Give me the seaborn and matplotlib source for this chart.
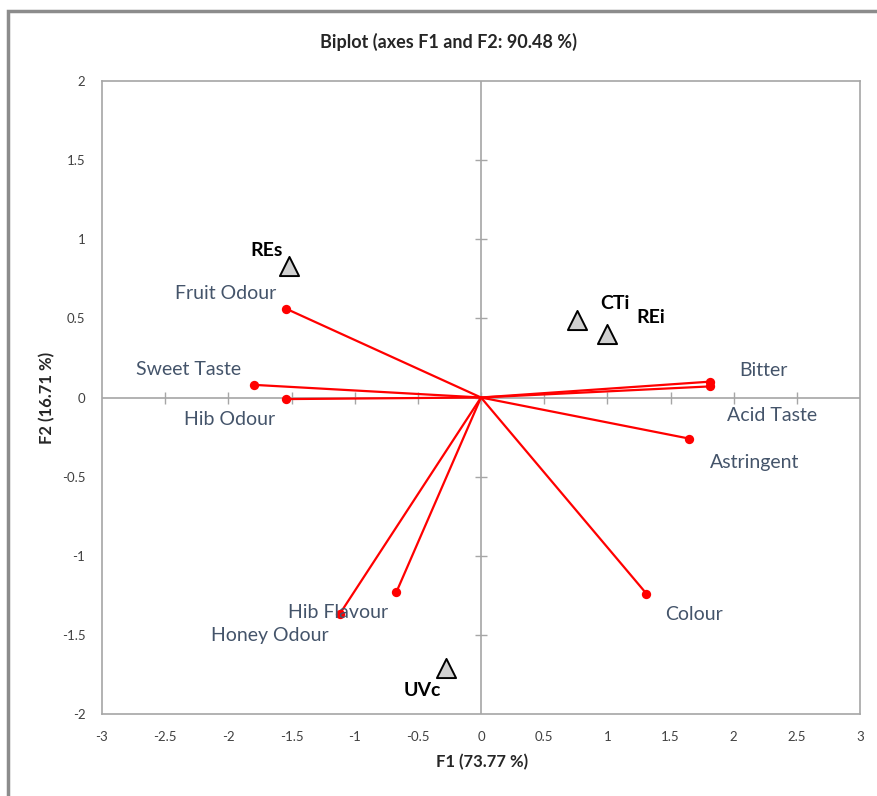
import numpy as np
import pandas as pd
import matplotlib
matplotlib.use("Agg")
import matplotlib.pyplot as plt
from matplotlib.patches import Rectangle
import seaborn as sns

# variables (vectors)
var_names = ["Fruit Odour", "Sweet Taste", "Hib Odour", "Bitter", "Acid Taste",
             "Astringent", "Colour", "Hib Flavour", "Honey Odour"]
var_f1 = [-1.54, -1.80, -1.54, 1.81, 1.81, 1.65, 1.31, -0.67, -1.12]
var_f2 = [0.56, 0.08, -0.01, 0.10, 0.07, -0.26, -1.24, -1.23, -1.37]

# observations (samples)
obs_names = ["REs", "CTi", "REi", "UVc"]
obs_f1 = [-1.52, 0.76, 1.00, -0.28]
obs_f2 = [0.83, 0.49, 0.40, -1.71]

x_ticks = [-3, -2.5, -2, -1.5, -1, -0.5, 0, 0.5, 1, 1.5, 2, 2.5, 3]
y_ticks = [-2, -1.5, -1, -0.5, 0, 0.5, 1, 1.5, 2]

sns.set_style("white")
plt.rcParams["font.family"] = ["Lato", "DejaVu Sans"]

vars_df = pd.DataFrame({"name": var_names, "F1": var_f1, "F2": var_f2})
obs_df = pd.DataFrame({"name": obs_names, "F1": obs_f1, "F2": obs_f2})

fig = plt.figure(figsize=(8.77, 7.96), dpi=100)
ax = fig.add_axes([102 / 877, 1 - 714 / 796, 758 / 877, 633 / 796])

grey = "#a6a6a6"
# zero lines with tick marks
ax.axhline(0, color=grey, lw=1.2, zorder=1)
ax.axvline(0, color=grey, lw=1.2, zorder=1)
ax.plot(x_ticks[1:-1], [0] * (len(x_ticks) - 2), ls="none", marker="|",
        ms=8, mew=1.0, color=grey, zorder=1)
ax.plot([0] * (len(y_ticks) - 2), y_ticks[1:-1], ls="none", marker="_",
        ms=8, mew=1.0, color=grey, zorder=1)

# vectors
for _, r in vars_df.iterrows():
    ax.plot([0, r.F1], [0, r.F2], color="red", lw=1.6, zorder=2)
sns.scatterplot(data=vars_df, x="F1", y="F2", color="red", s=45,
                edgecolor="red", linewidth=0, zorder=3, ax=ax, legend=False)

# observations
sns.scatterplot(data=obs_df, x="F1", y="F2", marker="^", s=190,
                color="#d0d0d0", edgecolor="black", linewidth=1.4,
                zorder=4, ax=ax, legend=False)

# variable labels (offsets in points)
var_offsets = {
    "Fruit Odour": (-44, 11), "Sweet Taste": (-47, 11), "Hib Odour": (-41, -15),
    "Bitter": (39, 8), "Acid Taste": (45, -21), "Astringent": (47, -17),
    "Colour": (34, -15), "Hib Flavour": (-42, -15), "Honey Odour": (-50, -15),
}
for _, r in vars_df.iterrows():
    ax.annotate(r["name"], (r.F1, r.F2), xytext=var_offsets[r["name"]],
                textcoords="offset points", ha="center", va="center",
                fontsize=14, color="#44546a", zorder=5)

obs_offsets = {"REs": (-16, 11), "CTi": (27, 12), "REi": (31, 12), "UVc": (-17, -16)}
for _, r in obs_df.iterrows():
    ax.annotate(r["name"], (r.F1, r.F2), xytext=obs_offsets[r["name"]],
                textcoords="offset points", ha="center", va="center",
                fontsize=14, fontweight="bold", color="black", zorder=5)

ax.set_xlim(-3, 3)
ax.set_ylim(-2, 2)
ax.set_xticks(x_ticks)
ax.set_yticks(y_ticks)
ax.set_xticklabels([f"{t:g}" for t in x_ticks])
ax.set_yticklabels([f"{t:g}" for t in y_ticks])
ax.tick_params(axis="both", length=0, labelsize=9.5, pad=12, colors="#404040")
for s in ax.spines.values():
    s.set_color(grey)
    s.set_linewidth(1.2)
ax.set_xlabel("")
ax.set_ylabel("")

fig.text(449 / 877, 1 - 42 / 796, "Biplot (axes F1 and F2: 90.48 %)",
         ha="center", va="center", fontsize=13, fontweight="bold")
fig.text(482 / 877, 1 - 762 / 796, "F1 (73.77 %)", ha="center", va="center",
         fontsize=12, fontweight="bold")
fig.text(47 / 877, 1 - 398 / 796, "F2 (16.71 %)", ha="center", va="center",
         rotation=90, fontsize=12, fontweight="bold")

# chart-area frame (only left and top visible)
fig.patches.append(Rectangle((8 / 877, -0.05), 1.2, 1.05 - 11 / 796,
                             transform=fig.transFigure, fill=False,
                             edgecolor="#8c8c8c", lw=2.5))

fig.savefig("out.png", dpi=100, facecolor="white")
